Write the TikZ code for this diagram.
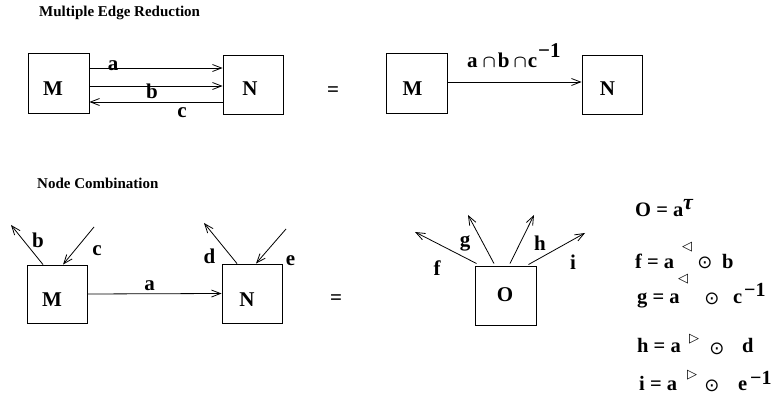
\documentclass[tikz,border=0pt]{standalone}
\usepackage{fontspec}
\setmainfont{Liberation Serif}
\newfontfamily\symf{DejaVu Sans}
\usetikzlibrary{arrows.meta,calc}
\begin{document}
\begin{tikzpicture}[x=1pt,y=-1pt,
  box/.style={draw, line width=0.9pt, inner sep=0pt},
  lab/.style={font=\fontsize{21}{24}\selectfont\bfseries, inner sep=0pt},
  eq/.style={font=\fontsize{20.5}{24}\selectfont\bfseries, inner sep=0pt, anchor=base west},
  sup/.style={font=\fontsize{20}{24}\selectfont\bfseries, inner sep=0pt, anchor=base west},
  tri/.style={font=\fontsize{13}{15}\selectfont\symf, inner sep=0pt},
  odot/.style={font=\fontsize{18}{20}\selectfont\symf, inner sep=0pt},
  ttl/.style={font=\fontsize{15}{18}\selectfont\bfseries, inner sep=0pt, anchor=base west},
  arr/.style={line width=0.8pt, -{Straight Barb[length=9pt,width=7pt,line width=0.8pt]}},
]
\useasboundingbox (0,0) rectangle (772,419);

% ---------- Multiple Edge Reduction ----------
\node[ttl] (t1) at (39,17) {Multiple Edge Reduction};

\node[box, minimum width=61pt, minimum height=60pt] (M1) at (58.5,83) {};
\node[box, minimum width=60pt, minimum height=59pt] (N1) at (253,84.5) {};
\node[lab] (M1t) at (53,88.5) {M};
\node[lab] (N1t) at (250,88.5) {N};

\draw[arr] ($(M1.east)+(0,-15)$) -- ($(N1.west)+(0,-16.5)$);
\draw[arr] ($(M1.east)+(0,3)$) -- ($(N1.west)+(0,1.5)$);
\draw[arr] ($(N1.west)+(0,17.5)$) -- ($(M1.east)+(0,19)$);
\node[lab] (la) at (113,66) {a};
\node[lab] (lb) at (152,91.5) {b};
\node[lab] (lc) at (182,112.5) {c};

\node[lab] (eq1) at (333,92) {=};

\node[box, minimum width=61pt, minimum height=60pt] (M2) at (416.5,83) {};
\node[box, minimum width=60pt, minimum height=59pt] (N2) at (612,84.5) {};
\node[lab] (M2t) at (412.5,88.5) {M};
\node[lab] (N2t) at (607.5,89) {N};
\draw[arr] ($(M2.east)+(0,-1)$) -- ($(N2.west)+(0,-2.5)$);
\node[eq, font=\fontsize{21}{24}\selectfont\bfseries] (lcap) at (467,68) {a\hspace{5pt}{\fontsize{19}{19}\selectfont\boldmath$\cap$}\hspace{2pt}b\hspace{4pt}{\fontsize{19}{19}\selectfont\boldmath$\cap$}\hspace{1pt}c\hspace{1pt}\raisebox{10pt}{\fontsize{21}{24}\selectfont −1}};

% ---------- Node Combination ----------
\node[ttl] (t2) at (37,189) {Node Combination};

\node[box, minimum width=60pt, minimum height=58pt] (M3) at (57,294) {};
\node[box, minimum width=60pt, minimum height=59pt] (N3) at (252,293.5) {};
\node[lab] (M3t) at (52,300) {M};
\node[lab] (N3t) at (247,300) {N};
\draw[arr] (M3.east) -- (N3.west);
\node[lab] (l3a) at (149.5,285.5) {a};

\coordinate (bEnd) at (11,225);
\coordinate (cStart) at (94,227);
\coordinate (dEnd) at (204,223);
\coordinate (eStart) at (286,229);
\draw[arr] ($(M3.north)+(-14,0)$) -- (bEnd);
\draw[arr] (cStart) -- ($(M3.north)+(6,0)$);
\draw[arr] ($(N3.north)+(-15,0)$) -- (dEnd);
\draw[arr] (eStart) -- ($(N3.north)+(4,0)$);
\node[lab] (l3b) at (38,240) {b};
\node[lab] (l3c) at (97,251) {c};
\node[lab] (l3d) at (209.5,256.5) {d};
\node[lab] (l3e) at (290.5,261) {e};

\node[lab] (eq2) at (336,300) {=};

\node[box, minimum width=61pt, minimum height=59pt] (O) at (505.5,295.5) {};
\node[lab] (Ot) at (505,295) {O};
\coordinate (fEnd) at (415,232);
\coordinate (gEnd) at (468,215);
\coordinate (hEnd) at (534,215);
\coordinate (iEnd) at (585,233);
\draw[arr] ($(O.north west)+(2,-2)$) -- (fEnd);
\draw[arr] ($(O.north)+(-11.5,-2)$) -- (gEnd);
\draw[arr] ($(O.north)+(4.5,-2)$) -- (hEnd);
\draw[arr] ($(O.north east)+(-8,-1)$) -- (iEnd);
\node[lab] (lf) at (437,268) {f};
\node[lab] (lg) at (465,243) {g};
\node[lab] (lh) at (540,243) {h};
\node[lab] (li) at (573,262) {i};

% ---------- equations ----------
\node[eq] (eO) at (635,217) {O = a};
\node[sup, font=\fontsize{22}{24}\selectfont\bfseries\itshape] (eOt) at (683,210) {τ};

\node[eq] (ef) at (635,269) {f = a};
\node[tri] (eft) at (687,247) {◁};
\node[odot] (efo) at (705,263) {⊙};
\node[eq] (efb) at (722,269) {b};

\node[eq] (eg) at (637,304) {g = a};
\node[tri] (egt) at (683,279) {◁};
\node[odot] (ego) at (712,299) {⊙};
\node[eq] (egc) at (733,304) {c};
\node[sup] (egm) at (744,297) {−1};

\node[eq] (eh) at (637,353) {h = a};
\node[tri] (eht) at (694,339) {▷};
\node[odot] (eho) at (717,349) {⊙};
\node[eq] (ehd) at (742,353) {d};

\node[eq] (ei) at (639,391) {i = a};
\node[tri] (eit) at (692,375) {▷};
\node[odot] (eio) at (712,386) {⊙};
\node[eq] (eie) at (738,391) {e};
\node[sup] (eim) at (750,385) {−1};
\end{tikzpicture}
\end{document}
